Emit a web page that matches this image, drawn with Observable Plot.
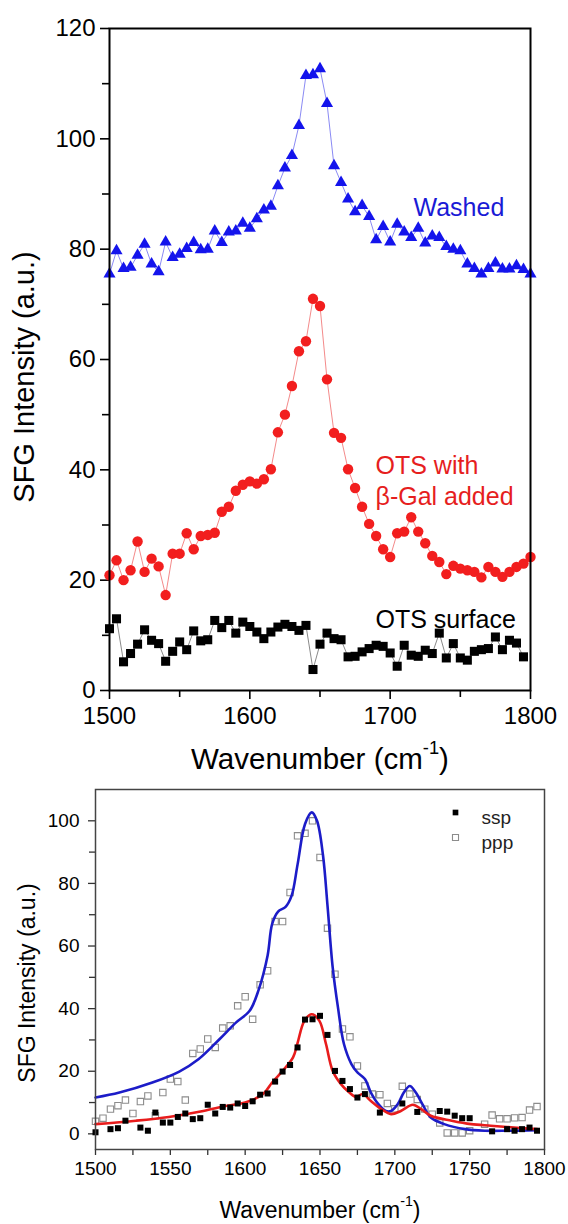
<!DOCTYPE html>
<html><head><meta charset="utf-8">
<script src="https://cdn.jsdelivr.net/npm/d3@7"></script>
<script src="https://cdn.jsdelivr.net/npm/@observablehq/plot@0.6"></script>
<style>
html,body{margin:0;padding:0;background:#fff;}
#wrap{position:relative;width:568px;height:1224px;overflow:hidden;}
#top{position:absolute;left:0;top:0;}
#bot{position:absolute;left:0;top:780px;}
</style></head><body><div id="wrap"><div id="top"></div><div id="bot"></div></div>
<script>
// ---------- Top panel data ----------
const wnTop = [1500,1505,1510,1515,1520,1525,1530,1535,1540,1545,1550,1555,1560,1565,1570,1575,1580,1585,1590,1595,
  1600,1605,1610,1615,1620,1625,1630,1635,1640,1645,1650,1655,1660,1665,1670,1675,1680,1685,1690,1695,
  1700,1705,1710,1715,1720,1725,1730,1735,1740,1745,1750,1755,1760,1765,1770,1775,1780,1785,1790,1795,1800];
const washed = [75.5,79.7,76.5,76.7,78.9,80.9,77.3,75.9,81.3,78.5,79.1,80.1,81.2,79.9,80,83.3,81.2,83.1,83.3,84.7,
  83.8,85.5,87.1,87.8,91.5,94.7,97,102.4,111.5,111.6,112.7,106.4,95.1,92.1,89.1,86.8,87.9,85.9,81.7,84.1,
  81.3,84.5,83.1,82.1,83.8,81.1,82.4,82.1,80.5,80,79.7,77.3,76.5,75.5,76.5,77.5,76.4,76.4,77,76.3,75.5];
const betaGal = [20.9,23.6,20,21.8,27,21.5,23.9,22.5,17.3,24.8,24.8,28.5,25.6,28,28.2,28.6,32.4,33.3,36.2,37.3,
  37.9,37.5,38.3,40.1,46.8,50,55.2,61.5,63.3,71,69.7,56.4,46.7,45.8,40.1,36.7,33.3,30.2,28,25.6,
  24.2,28.5,28.8,31.4,28.8,26.7,24.4,23.3,21.1,22.6,22.1,21.8,21.5,20.5,22.4,21.5,20.6,21.5,22.4,23,24.2];
const otsSurface = [11.2,13,5.2,6.7,8.4,11,9.1,8.5,5.3,7.1,8.8,7.4,10.8,9,9.2,12.7,11.4,12.7,10.4,12.4,
  11.6,10.6,9.4,10.6,11.5,12,11.6,10.9,11.8,3.8,8.4,10.4,9.4,9.2,6.1,6.2,7,7.6,8.2,8,
  6.8,4.4,8.2,6.4,6.2,7.3,6.7,10.4,5.9,8.5,5.9,5.5,7.1,7.4,7.6,9.7,7.4,9.1,8.6,6.1];
const topYTicks = [0,20,40,60,80,100,120];
const topYMinor = [10,30,50,70,90,110];
const topXTicks = [1500,1600,1700,1800];
const topXMinor = [1550,1650,1750];
const topLabels = ["Washed","OTS with","β-Gal added","OTS surface"];

// ---------- Bottom panel data ----------
const sspX = [1500,1510,1515,1520,1530,1535,1540,1545,1550,1555,1560,1565,1570,1575,1580,1585,1590,1595,1600,1605,
  1610,1615,1620,1625,1630,1635,1640,1645,1650,1655,1660,1665,1670,1675,1680,1690,1705,1715,1730,1735,
  1740,1745,1750,1765,1775,1780,1785,1790,1795];
const sspY = [0.5,1.5,1.8,4.2,2,1,6.8,3.6,3.6,5.4,6.5,4.7,5,9.3,6.5,8.6,8.4,9.7,8.9,10.4,
  12.5,12.9,16.7,19.9,22,27.6,36.5,36.6,37.7,31.6,20.1,16.9,14.3,11.6,12.7,6.8,9.7,7,7.3,7.1,
  5.8,5,5,0.8,1.5,1,1.5,2,1];
const pppX = [1500,1505,1510,1515,1520,1525,1530,1535,1540,1545,1550,1555,1560,1565,1570,1575,1580,1585,1590,1595,
  1600,1605,1610,1615,1620,1625,1630,1635,1640,1645,1650,1655,1660,1665,1670,1675,1680,1685,1690,1695,
  1700,1705,1710,1715,1720,1725,1730,1735,1740,1745,1750,1760,1765,1770,1775,1780,1785,1790,1795];
const pppY = [4,5,7.9,9,10.8,6.5,10.3,12.1,5.8,13.2,17.5,16.7,10.8,25.7,27.1,30.3,27.6,33.8,34.5,40.9,
  43.8,36.6,47.6,52.1,67.8,67.8,77.1,95.2,96,100,88.3,65.7,51,33.5,31,21.7,15.3,12.7,12.5,9.7,
  8,15.2,12.7,11,7.9,6.3,3.5,0.3,0.3,0.3,1,3.1,6,4.8,4.8,5.1,5.2,7.6,8.7];
const pppFitX = [1500,1516,1538,1556,1569,1583,1594,1603,1609,1615,1618,1622,1627,1631,1635,1640,1644.5,1648,1652,1655,
  1658.5,1662,1666,1671,1675,1680,1684,1689,1694,1697.5,1702,1706,1710,1714,1719,1724,1733,1747,1760,1775,1795];
const pppFitY = [11.6,13.2,16.4,19.9,23.9,30.3,35.6,39.3,46,57,67,71,72.5,76,86,99,102.7,100,89,73,
  53.1,40.4,28.7,22.3,19.6,17.5,13.2,9.5,7.3,7.3,9.5,13.2,15.3,13.2,9,5.2,3.1,1.5,1,1,1.2];
const sspFitX = [1500,1527,1549,1572,1587,1600,1612,1618,1625,1632,1635,1639.5,1644.5,1649.6,1654,1658.5,1664,1669.6,1674,1678.6,
  1684,1691,1697.5,1704,1712,1717.6,1724,1738,1751,1764,1775,1795];
const sspFitY = [3.1,4.2,5.4,7.3,8.9,10,12.7,16.4,20.1,24.4,29,36,38.2,36.1,28.7,20.1,15.9,13.2,11.8,12.7,
  10.5,7.9,6.3,7.3,9.3,7.9,5.8,4.2,3.1,2.6,2.2,1.5];
const botYTicks = [0,20,40,60,80,100];
const botYMinor = [10,30,50,70,90];
const botXTicks = [1500,1550,1600,1650,1700,1750,1800];
const botXMinor = [1525,1575,1625,1675,1725,1775];
const legendNames = ["ssp","ppp"];
const yTitle = "SFG Intensity (a.u.)";
const xTitleParts = ["Wavenumber (cm", "-1", ")"];

const FONT = '"Liberation Sans", Arial, Helvetica, sans-serif';
const BLUE = "#1414ec", BLUE_L = "#8a8af4";
const RED = "#f21e1e", RED_L = "#f48a8a";

const zipXY = (xs, ys) => ys.map((y, i) => ({x: xs[i], y}));
const str = d => String(d);
const blank = () => "";

function addYTitle(svg, cx, cy, size) {
  d3.select(svg).append("text")
    .attr("transform", `translate(${cx},${cy}) rotate(-90)`)
    .attr("text-anchor", "middle").attr("dominant-baseline", "central")
    .attr("font-family", FONT).attr("font-size", size).attr("fill", "#000")
    .text(yTitle);
}
function addXTitle(svg, cx, cy, size) {
  const t = d3.select(svg).append("text")
    .attr("transform", `translate(${cx},${cy})`)
    .attr("text-anchor", "middle").attr("dominant-baseline", "central")
    .attr("font-family", FONT).attr("font-size", size).attr("fill", "#000");
  t.append("tspan").text(xTitleParts[0]);
  t.append("tspan").attr("dy", -0.38 * size).attr("font-size", 0.62 * size).text(xTitleParts[1]);
  t.append("tspan").attr("dy", 0.38 * size).text(xTitleParts[2]);
}

// ---------- Top plot ----------
const topPlot = Plot.plot({
  width: 568, height: 780,
  marginLeft: 109, marginRight: 38, marginTop: 28, marginBottom: 90,
  style: {fontFamily: FONT, color: "#000", background: "transparent", overflow: "visible"},
  x: {domain: [1500, 1800]},
  y: {domain: [0, 120]},
  marks: [
    Plot.axisY({ticks: topYTicks, tickSize: 9, tickPadding: 5, fontSize: 24, label: null, strokeWidth: 1.6, tickFormat: str}),
    Plot.axisY({ticks: topYMinor, tickSize: 7, label: null, strokeWidth: 1.6, tickFormat: blank}),
    Plot.axisX({ticks: topXTicks, tickSize: 9, tickPadding: 7, fontSize: 24, label: null, strokeWidth: 1.6, tickFormat: str}),
    Plot.axisX({ticks: topXMinor, tickSize: 7, label: null, strokeWidth: 1.6, tickFormat: blank}),
    Plot.line(zipXY(wnTop, otsSurface), {x: "x", y: "y", stroke: "#8a8a8a", strokeWidth: 1}),
    Plot.dot(zipXY(wnTop, otsSurface), {x: "x", y: "y", symbol: "square", r: 5.1, fill: "#000"}),
    Plot.line(zipXY(wnTop, betaGal), {x: "x", y: "y", stroke: RED_L, strokeWidth: 1}),
    Plot.dot(zipXY(wnTop, betaGal), {x: "x", y: "y", symbol: "circle", r: 5.2, fill: RED}),
    Plot.line(zipXY(wnTop, washed), {x: "x", y: "y", stroke: BLUE_L, strokeWidth: 1}),
    Plot.dot(zipXY(wnTop, washed), {x: "x", y: "y", symbol: "triangle", r: 4.5, fill: BLUE}),
    Plot.frame({stroke: "#000", strokeWidth: 2}),
    Plot.text([topLabels[0]], {text: d => d, frameAnchor: "top-left", dx: 304, dy: 170, textAnchor: "start", fontSize: 25, fill: "#1a1ad6"}),
    Plot.text([topLabels[1]], {text: d => d, frameAnchor: "top-left", dx: 266, dy: 428, textAnchor: "start", fontSize: 25, fill: "#e61e1e"}),
    Plot.text([topLabels[2]], {text: d => d, frameAnchor: "top-left", dx: 266, dy: 459, textAnchor: "start", fontSize: 25, fill: "#e61e1e"}),
    Plot.text([topLabels[3]], {text: d => d, frameAnchor: "top-left", dx: 266, dy: 582, textAnchor: "start", fontSize: 25, fill: "#000"})
  ]
});
addYTitle(topPlot, 24, 377, 29);
addXTitle(topPlot, 320, 758, 29.5);
document.getElementById("top").appendChild(topPlot);

// ---------- Bottom plot ----------
const botPlot = Plot.plot({
  width: 568, height: 444,
  marginLeft: 95, marginRight: 24, marginTop: 9, marginBottom: 75,
  style: {fontFamily: FONT, color: "#000", background: "transparent", overflow: "visible"},
  x: {domain: [1500, 1800]},
  y: {domain: [-5, 110]},
  marks: [
    Plot.axisY({ticks: botYTicks, tickSize: 7, tickPadding: 9, fontSize: 19, label: null, stroke: "#333", strokeWidth: 1.3, tickFormat: str}),
    Plot.axisY({ticks: botYMinor, tickSize: 6, label: null, stroke: "#333", strokeWidth: 1.3, tickFormat: blank}),
    Plot.axisX({ticks: botXTicks, tickSize: 6, tickPadding: 6, fontSize: 19, label: null, stroke: "#333", strokeWidth: 1.3, tickFormat: str}),
    Plot.axisX({ticks: botXMinor, tickSize: 6, label: null, stroke: "#333", strokeWidth: 1.3, tickFormat: blank}),
    Plot.dot(zipXY(pppX, pppY), {x: "x", y: "y", symbol: "square", r: 3.6, fill: "none", stroke: "#8c8c8c", strokeWidth: 1.1}),
    Plot.line(zipXY(pppFitX, pppFitY), {x: "x", y: "y", curve: "catmull-rom", stroke: "#1c1cc8", strokeWidth: 2.6}),
    Plot.line(zipXY(sspFitX, sspFitY), {x: "x", y: "y", curve: "catmull-rom", stroke: "#e81c1c", strokeWidth: 2.6}),
    Plot.dot(zipXY(sspX, sspY), {x: "x", y: "y", symbol: "square", r: 3.4, fill: "#000"}),
    Plot.frame({stroke: "#444", strokeWidth: 1.5}),
    Plot.dot([legendNames[0]], {frameAnchor: "top-right", dx: -89, dy: 23, symbol: "square", r: 3.2, fill: "#000"}),
    Plot.dot([legendNames[1]], {frameAnchor: "top-right", dx: -89, dy: 48, symbol: "square", r: 3.4, fill: "none", stroke: "#8c8c8c", strokeWidth: 1.1}),
    Plot.text([legendNames[0]], {text: d => d, frameAnchor: "top-right", dx: -63, dy: 21, textAnchor: "start", fontSize: 19, fill: "#222"}),
    Plot.text([legendNames[1]], {text: d => d, frameAnchor: "top-right", dx: -63, dy: 46, textAnchor: "start", fontSize: 19, fill: "#222"})
  ]
});
addYTitle(botPlot, 27, 983 - 780, 23);
addXTitle(botPlot, 320, 1210 - 780, 23);
document.getElementById("bot").appendChild(botPlot);
</script>
</body></html>
